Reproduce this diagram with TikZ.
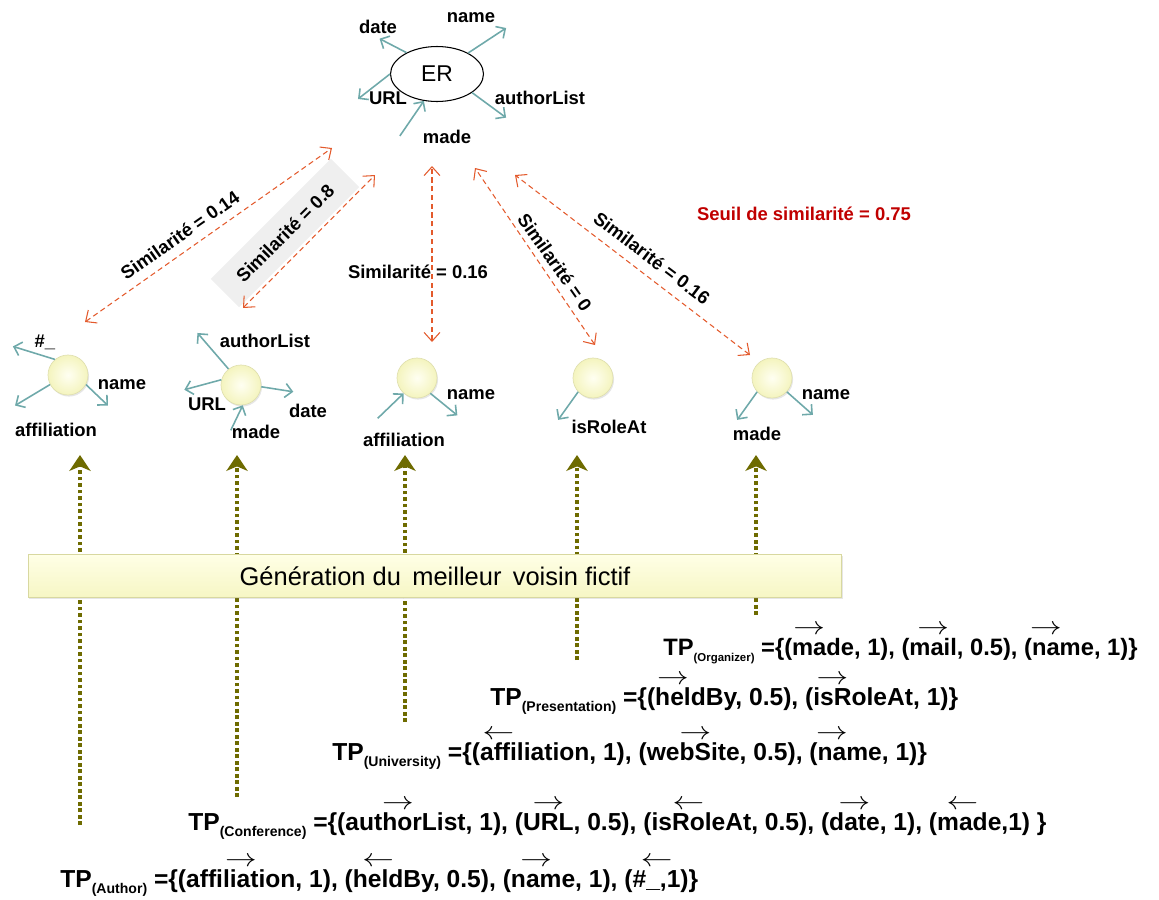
\documentclass[tikz,border=0pt]{standalone}
\usepackage{fontspec}
\usepackage{graphicx}
\setmainfont{Liberation Sans}
\usetikzlibrary{arrows.meta, shapes.geometric, shadows}
\definecolor{attrTeal}{HTML}{6FA9AA}
\definecolor{simOrange}{HTML}{E35A2C}
\definecolor{voisinOlive}{HTML}{6E6B00}
\definecolor{seuilRed}{HTML}{C00000}
\definecolor{simGray}{HTML}{EFEFEF}
\definecolor{entIn}{HTML}{FFFFF2}
\definecolor{entOut}{HTML}{F4F4BE}
\definecolor{entEdge}{HTML}{E0E0B0}
\definecolor{boxTop}{HTML}{FFFFE6}
\definecolor{boxBot}{HTML}{F6F6C4}
\definecolor{boxEdge}{HTML}{D8D8A0}

\tikzset{
  er/.style={ellipse, draw, line width=0.6pt, fill=white, minimum width=1.86cm,
    minimum height=1.1cm, inner sep=0pt, font=\fontsize{13}{15}\selectfont},
  ent/.style={circle, minimum size=0.8cm, inner sep=0pt, draw=entEdge, line width=0.4pt,
    inner color=entIn, outer color=entOut,
    drop shadow={opacity=0.2, shadow xshift=0.6pt, shadow yshift=-0.9pt}},
  lbl/.style={font=\bfseries\fontsize{10.5}{12}\selectfont, inner sep=0pt},
  attr/.style={draw=attrTeal, line width=0.9pt, -{Straight Barb[length=4pt, width=8pt]}},
  attrin/.style={draw=attrTeal, line width=0.9pt, {Straight Barb[length=4pt, width=8pt]}-},
  simline/.style={draw=simOrange, line width=0.6pt, dash pattern=on 3pt off 2pt,
    {Straight Barb[length=5pt, width=9pt]}-{Straight Barb[length=5pt, width=9pt]}},
  voisin/.style={draw=voisinOlive, line width=2.5pt, dash pattern=on 2.2pt off 1.5pt,
    -{Stealth[length=9pt, width=12pt, inset=2.5pt]}},
  genbox/.style={draw=boxEdge, line width=0.5pt, top color=boxTop, bottom color=boxBot,
    minimum width=16.28cm, minimum height=0.86cm, font=\fontsize{14.5}{16}\selectfont,
    drop shadow={opacity=0.2, shadow xshift=0.6pt, shadow yshift=-0.9pt}},
  tp/.style={font=\bfseries\fontsize{14}{16}\selectfont, inner sep=0pt, anchor=base west},
}

% fleche au-dessus d'une partie du mot
\newsavebox\arrbox
\newcommand\overarr[2]{\leavevmode\sbox\arrbox{#2}%
  \rlap{\hbox to\wd\arrbox{\hss\raisebox{0.85em}{\mdseries\scalebox{1.25}[1]{#1}}\hss}}\usebox\arrbox}
\newcommand\vecR[1]{\overarr{$\rightarrow$}{#1}}
\newcommand\vecL[1]{\overarr{$\leftarrow$}{#1}}
\newcommand\tpsub[2][8]{\raisebox{-0.28em}{\fontsize{#1}{9}\selectfont(#2)}}
\newcommand\usc{\char95\relax}

\begin{document}
\begin{tikzpicture}[x=0.02cm, y=-0.02cm]
  \useasboundingbox (0,0) rectangle (1159,899);

  % entite requete
  \node[er] (er) at (437,74) {ER};
  \draw[attr] (er.145) -- ++(-27,-14);
  \draw[attr] (er.34) -- ++(38,-25);
  \draw[attr] (er.180) -- ++(-32,25);
  \draw[attr] (er.-28) -- ++(34,25);
  \draw[attrin] (er.-116) -- ++(-24,35);
  \node[lbl] (erdate) at (378,27) {date};
  \node[lbl] (ername) at (471,18) {name};
  \node[lbl] (erurl) at (388,98) {URL};
  \node[lbl] (erauth) at (540,98) {authorList};
  \node[lbl] (ermade) at (447,137) {made};

  % voisins fictifs
  \node[ent] (c1) at (68,375) {};
  \node[ent] (c2) at (241,385) {};
  \node[ent] (c3) at (417,378) {};
  \node[ent] (c4) at (593,378) {};
  \node[ent] (c5) at (772,378) {};

  \draw[attr] (c1.130) -- ++(-42,-13);
  \draw[attr] (c1.-28) -- ++(22,21);
  \draw[attr] (c1.-152) -- ++(-35,21);
  \node[lbl] (c1a) at (45,342) {\#\usc};
  \node[lbl] (c1b) at (122,385) {name};
  \node[lbl] (c1c) at (56,430) {affiliation};

  \draw[attr] (c2.128) -- ++(-31,-36);
  \draw[attr] (c2.165) -- ++(-37,10);
  \draw[attr] (c2.-5) -- ++(32,5);
  \draw[attrin] (c2.-85) -- ++(-12,25);
  \node[lbl] (c2a) at (265,341) {authorList};
  \node[lbl] (c2b) at (207,404) {URL};
  \node[lbl] (c2c) at (308,411) {date};
  \node[lbl] (c2d) at (256,432) {made};

  \draw[attrin] (c3.-131) -- ++(-26,25);
  \draw[attr] (c3.-49) -- ++(27,22);
  \node[lbl] (c3a) at (404,440) {affiliation};
  \node[lbl] (c3b) at (471,395) {name};

  \draw[attr] (c4.-137) -- ++(-20,28);
  \node[lbl] (c4a) at (609,427) {isRoleAt};

  \draw[attr] (c5.-137) -- ++(-20,28);
  \draw[attr] (c5.-43) -- ++(26,23);
  \node[lbl] (c5a) at (757,434) {made};
  \node[lbl] (c5b) at (826,395) {name};

  % similarites
  \node[lbl, rotate=35] (sim1) at (180,235) {Similarité = 0.14};
  \node[lbl, rotate=45, fill=simGray, minimum width=3.4cm, minimum height=0.8cm] (sim2) at (285,233) {Similarité = 0.8};
  \node[lbl] (sim3) at (418,272) {Similarité = 0.16};
  \node[lbl, rotate=-55] (sim4) at (555,262) {Similarité = 0};
  \node[lbl, rotate=-37] (sim5) at (652,258) {Similarité = 0.16};
  \node[lbl, text=seuilRed] (seuil) at (804,214) {Seuil de similarité = 0.75};

  \coordinate (s1h) at (332,148); \coordinate (s1b) at (85,322);
  \coordinate (s2h) at (375,175); \coordinate (s2b) at (243,308);
  \coordinate (s3h) at (432,166); \coordinate (s3b) at (432,342);
  \coordinate (s4h) at (475,168); \coordinate (s4b) at (595,345);
  \coordinate (s5h) at (515,175); \coordinate (s5b) at (750,355);
  \foreach \i in {1,...,5}
    \draw[simline] (s\i b) -- (s\i h);

  % generation
  \foreach \x/\yb in {80/825, 237/797, 405/722, 577/660, 756/615}
    \draw[voisin] (\x,\yb) -- (\x,455);
  \node[genbox] (gen) at (435,576) {Génération du\, meilleur\, voisin fictif};

  % patrons
  \node[tp, font=\bfseries\fontsize{13.5}{16}\selectfont] (tporg) at (663,655) {TP\tpsub[6.5]{Organizer} =\{(\vecR{ma}de, 1), (\vecR{mail}, 0.5), (\vecR{na}me, 1)\}};
  \node[tp] (tppres) at (490,705) {TP\tpsub{Presentation} =\{(\vecR{hel}dBy, 0.5), (\vecR{isR}oleAt, 1)\}};
  \node[tp] (tpuni) at (332,760) {TP\tpsub{University} =\{(\vecL{affi}liation, 1), (we\vecR{bS}ite, 0.5), (\vecR{na}me, 1)\}};
  \node[tp] (tpconf) at (188,830) {TP\tpsub{Conference} =\{(au\vecR{thor}List, 1), (\vecR{URL}, 0.5), (is\vecL{Ro}leAt, 0.5), (\vecR{date}, 1), (\vecL{mad}e,1) \}};
  \node[tp] (tpaut) at (60,887) {TP\tpsub{Author} =\{(\vecR{affiliation}, 1), (\vecL{held}By, 0.5), (\vecR{nam}e, 1), (\#\vecL{\usc,}1)\}};
\end{tikzpicture}
\end{document}
